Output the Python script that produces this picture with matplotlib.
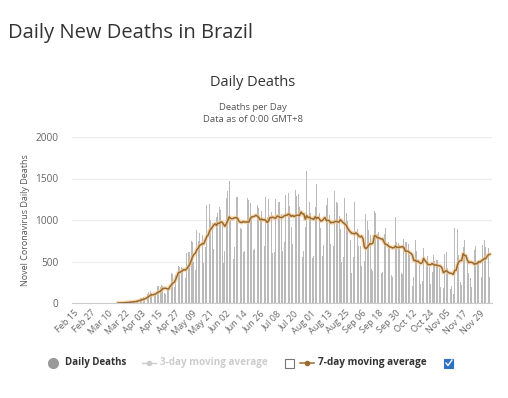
import numpy as np
import pandas as pd
import matplotlib
matplotlib.use('Agg')
import matplotlib.pyplot as plt
from matplotlib.lines import Line2D
from matplotlib.patches import Rectangle

plt.rcParams['font.family'] = ['Open Sans', 'DejaVu Sans']

# daily new deaths in Brazil, Feb 15 - Dec 6 2020
before_first = [0] * 31  # Feb 15 - Mar 16
mar = [1, 3, 3, 5, 7, 7, 9, 12, 12, 20, 15, 22, 22, 23, 42]
apr = [40, 58, 60, 73, 54, 67, 114, 133, 141, 115, 68, 99, 105, 204, 204,
       188, 217, 206, 115, 113, 166, 165, 407, 357, 346, 189, 338, 474, 449, 435]
may = [428, 421, 275, 296, 600, 615, 610, 751, 730, 496,
       396, 881, 749, 844, 824, 816, 485, 674, 1179, 888,
       1188, 1001, 965, 653, 807, 1039, 1086, 1156, 1124, 956, 480]
jun = [623, 1262, 1349, 1473, 1005, 904, 525, 679, 1272, 1274,
       1239, 909, 892, 612, 627, 1282, 1269, 1238, 1206, 1022,
       641, 654, 1374, 1185, 1141, 990, 1109, 552, 692, 1280]
jul = [1038, 1252, 1290, 1091, 602, 620, 1254, 1223, 1220, 1214,
       1071, 631, 733, 1300, 1233, 1322, 1163, 921, 716, 632,
       1367, 1284, 1311, 1156, 1211, 555, 627, 921, 1595, 1129, 1212]
aug = [1088, 541, 561, 1154, 1437, 1237, 1079, 905, 572, 703,
       1274, 1175, 1262, 1060, 709, 620, 684, 1352, 1212, 1204,
       1054, 892, 494, 551, 1271, 1085, 984, 855, 758, 366, 553]
sep = [1215, 1184, 888, 682, 682, 447, 310, 504, 1075, 983,
       874, 814, 415, 381, 1113, 1090, 829, 858, 761, 363,
       377, 836, 906, 831, 729, 691, 335, 317, 863, 1031]
oct_ = [729, 728, 695, 363, 350, 772, 734, 730, 714, 584,
        308, 201, 309, 754, 626, 754, 461, 230, 271, 661,
        566, 497, 571, 432, 231, 371, 579, 510, 513, 518, 423]
nov = [190, 231, 176, 586, 610, 425, 325, 164, 201, 103,
       908, 630, 897, 580, 256, 216, 676, 754, 614, 529,
       358, 302, 194, 630, 638, 691, 501, 521, 272, 317]
dec = [697, 755, 672, 694, 664, 313]

deaths = np.array(before_first + mar + apr + may + jun + jul + aug + sep + oct_ + nov + dec)
dates = pd.date_range('2020-02-15', periods=len(deaths), freq='D')
avg7 = pd.Series(deaths).rolling(7, min_periods=1).mean().values
first_death = len(before_first)

fig = plt.figure(figsize=(5.08, 3.98), dpi=100)
fig.patch.set_facecolor('white')

W, H = 508, 398
ax = fig.add_axes([72 / W, (H - 303) / H, 420 / W, 166 / H])

x = np.arange(len(deaths))
ax.bar(x, deaths, width=0.6, color='#bababa', zorder=2)
ax.plot(x[first_death:], avg7[first_death:], color='#f3c68c', lw=3, alpha=0.6, zorder=3,
        solid_capstyle='round')
ax.plot(x[first_death:], avg7[first_death:], color='#9a6a2e', lw=1.1, zorder=4)

ax.set_xlim(-1.5, len(deaths) + 0.5)
ax.set_ylim(0, 2000)
ax.set_yticks([0, 500, 1000, 1500, 2000])
ax.tick_params(axis='y', length=0, labelsize=7.3, labelcolor='#666666', pad=10)
ticks = x[::12]
ax.set_xticks(ticks)
ax.set_xticklabels([dates[i].strftime('%b %d') for i in ticks], rotation=45,
                   ha='right', rotation_mode='anchor', fontsize=6.6, color='#666666')
ax.tick_params(axis='x', length=0, pad=4)
ax.grid(axis='y', color='#ececec', lw=0.8, zorder=0)
for s in ['top', 'right', 'left']:
    ax.spines[s].set_visible(False)
ax.spines['bottom'].set_color('#cccccc')
ax.spines['bottom'].set_linewidth(0.8)
ax.set_ylabel('Novel Coronavirus Daily Deaths', fontsize=6.5, color='#555555')
ax.yaxis.set_label_coords(-42 / 420, 0.5)

fig.text(8 / W, 1 - 33 / H, 'Daily New Deaths in Brazil', fontsize=14.5, color='#333333',
         va='center', ha='left')
fig.text(253 / W, 1 - 83 / H, 'Daily Deaths', fontsize=10.5, color='#333333',
         va='center', ha='center')
fig.text(253 / W, 1 - 107 / H, 'Deaths per Day', fontsize=6.8, color='#555555',
         va='center', ha='center')
fig.text(253 / W, 1 - 120 / H, 'Data as of 0:00 GMT+8', fontsize=6.8, color='#555555',
         va='center', ha='center')

# legend drawn by hand
ly = 1 - 363 / H
fig.add_artist(Line2D([53 / W], [ly], marker='o', markersize=7, color='#999999',
                      transform=fig.transFigure, lw=0))
fig.text(65 / W, ly, 'Daily Deaths', fontsize=7, fontweight='bold', color='#333333',
         va='center', ha='left')
fig.add_artist(Line2D([142 / W, 156 / W], [ly, ly], color='#cccccc', lw=1,
                      transform=fig.transFigure))
fig.add_artist(Line2D([149 / W], [ly], marker='o', markersize=3, color='#cccccc',
                      transform=fig.transFigure, lw=0))
fig.text(160 / W, ly, '3-day moving average', fontsize=7.1, fontweight='bold',
         color='#cccccc', va='center', ha='left')
fig.add_artist(Rectangle((285 / W, ly - 5 / H), 9 / W, 9 / H, transform=fig.transFigure,
                         facecolor='white', edgecolor='#777777', lw=0.8))
fig.add_artist(Line2D([300 / W, 314 / W], [ly, ly], color='#9a6a2e', lw=1.1,
                      transform=fig.transFigure))
fig.add_artist(Line2D([307 / W], [ly], marker='o', markersize=3, color='#9a6a2e',
                      transform=fig.transFigure, lw=0))
fig.text(318 / W, ly, '7-day moving average', fontsize=7.2, fontweight='bold',
         color='#333333', va='center', ha='left')
fig.add_artist(Rectangle((444 / W, ly - 5 / H), 9 / W, 9 / H, transform=fig.transFigure,
                         facecolor='#2f6fc4', edgecolor='#2f6fc4', lw=0.8))
fig.add_artist(Line2D([446 / W, 448 / W, 452 / W], [ly, ly - 2.5 / H, ly + 3 / H],
                      color='white', lw=1, transform=fig.transFigure))

fig.savefig('out.png', dpi=100, facecolor='white')
